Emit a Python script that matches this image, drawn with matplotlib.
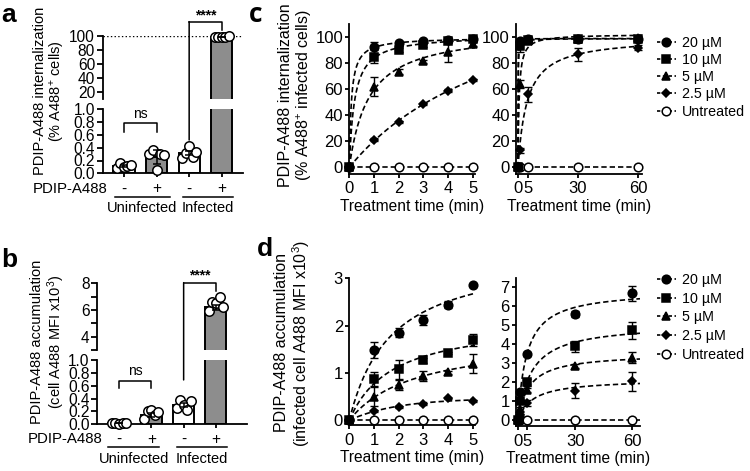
import numpy as np
import matplotlib
matplotlib.use('Agg')
import matplotlib.pyplot as plt
from matplotlib.patches import ConnectionPatch
from matplotlib.lines import Line2D
from matplotlib.transforms import blended_transform_factory as btf

plt.rcParams['font.family'] = ['Liberation Sans', 'DejaVu Sans']
plt.rcParams['mathtext.fontset'] = 'custom'
plt.rcParams['mathtext.rm'] = 'Liberation Sans'
plt.rcParams['mathtext.it'] = 'Liberation Sans:italic'
plt.rcParams['mathtext.bf'] = 'Liberation Sans:bold'

# ---------------- data ----------------
treat_labels = ['-', '+', '-', '+']
group_labels = ['Uninfected', 'Infected']

a_mean = [0.12, 0.26, 0.32, 98.4]
a_sem = [0.015, 0.11, 0.035, 0.3]
a_pts_uninf_neg = [0.08, 0.16, 0.10, 0.12, 0.13]
a_pts_uninf_pos = [0.30, 0.36, 0.05, 0.30, 0.29]
a_pts_inf_neg = [0.24, 0.31, 0.43, 0.26, 0.34]
a_pts_inf_pos = [98.0, 98.5, 98.8, 98.2, 99.0]

b_mean = [0.02, 0.15, 0.30, 6.2]
b_sem = [0.004, 0.03, 0.03, 0.17]
b_pts_uninf_neg = [0.02, 0.02, 0.01, 0.02, 0.02]
b_pts_uninf_pos = [0.08, 0.21, 0.22, 0.14, 0.19]
b_pts_inf_neg = [0.25, 0.38, 0.30, 0.22, 0.37]
b_pts_inf_pos = [5.95, 6.6, 6.5, 6.95, 6.25]

conc_labels = ['20 µM', '10 µM', '5 µM', '2.5 µM', 'Untreated']

c_t_short = [0, 1, 2, 3, 4, 5]
c_short_20 = [0, 92.2, 95.6, 96.9, 97.7, 98.5]
c_short_10 = [0, 85.0, 89.9, 94.3, 96.9, 99.0]
c_short_5 = [0, 62.0, 73.6, 81.4, 88.4, 95.1]
c_short_2p5 = [0, 21.2, 34.9, 48.6, 58.9, 67.0]
c_short_un = [0, 0, 0, 0, 0, 0]
c_short_err_20 = [0, 4.5, 1, 1, 1, 1]
c_short_err_10 = [0, 5, 1.5, 1.5, 1, 1.5]
c_short_err_5 = [0, 7.5, 2, 1, 7.7, 2]
c_short_err_2p5 = [0, 1, 1, 1, 1, 1]
c_short_err_un = [0, 0, 0, 0, 0, 0]

c_t_long = [0, 1, 5, 30, 60]
c_long_20 = [0, 97, 98.5, 99, 99]
c_long_10 = [0, 93, 97.5, 99, 98.5]
c_long_5 = [0, 64, 97, 99, 99.5]
c_long_2p5 = [0, 13, 56, 87, 92]
c_long_un = [0, 0, 0, 0, 0]
c_long_err_20 = [0, 2, 1, 1, 1]
c_long_err_10 = [0, 4, 1, 1, 1]
c_long_err_5 = [0, 3, 1, 1, 1]
c_long_err_2p5 = [0, 2, 6, 5, 2]
c_long_err_un = [0, 0, 0, 0, 0]

d_t_short = [0, 1, 2, 3, 4, 5]
d_short_20 = [0, 1.49, 1.85, 2.12, 2.44, 2.86]
d_short_10 = [0, 0.87, 1.08, 1.27, 1.42, 1.69]
d_short_5 = [0, 0.50, 0.75, 0.94, 1.01, 1.19]
d_short_2p5 = [0, 0.20, 0.28, 0.35, 0.46, 0.40]
d_short_un = [0, 0, 0, 0, 0, 0]
d_short_err_20 = [0, 0.17, 0.1, 0.1, 0.07, 0]
d_short_err_10 = [0, 0.15, 0.2, 0.05, 0.03, 0.13]
d_short_err_5 = [0, 0.2, 0.1, 0.1, 0.03, 0.2]
d_short_err_2p5 = [0, 0.02, 0.02, 0.02, 0.02, 0.02]
d_short_err_un = [0, 0, 0, 0, 0, 0]

d_t_long = [0, 1, 5, 30, 60]
d_long_20 = [0, 1.5, 3.5, 5.6, 6.7]
d_long_10 = [0, 1.0, 2.0, 3.9, 4.75]
d_long_5 = [0, 0.6, 1.6, 2.85, 3.3]
d_long_2p5 = [0, 0.3, 0.9, 1.57, 2.05]
d_long_un = [0, 0, 0, 0, 0]
d_long_err_20 = [0, 0.1, 0.1, 0.15, 0.4]
d_long_err_10 = [0, 0.1, 0.2, 0.3, 0.45]
d_long_err_5 = [0, 0.1, 0.1, 0.1, 0.3]
d_long_err_2p5 = [0, 0.05, 0.15, 0.4, 0.5]
d_long_err_un = [0, 0, 0, 0, 0]

# ---------------- figure ----------------
W, H = 750, 471
fig = plt.figure(figsize=(W / 100, H / 100), dpi=100)


def add_ax(x0, y0, x1, y1):
    return fig.add_axes([x0 / W, 1 - y1 / H, (x1 - x0) / W, (y1 - y0) / H])


def fy(y):
    return 1 - y / H


def fx(x):
    return x / W


LW = 1.3
BARFS = 11.2
TXTFS = 10.5
CFS = 12


def style(ax, bottom=True, fs=BARFS):
    for s in ['top', 'right']:
        ax.spines[s].set_visible(False)
    for s in ['left', 'bottom']:
        ax.spines[s].set_linewidth(LW)
    if not bottom:
        ax.spines['bottom'].set_visible(False)
    ax.tick_params(width=LW, length=4, labelsize=fs, pad=1.5)
    ax.set_facecolor('none')


bar_colors = ['white', '#8d8d8d', 'white', '#8d8d8d']


def bar_panel(ax_up, ax_lo, means, sems, pts, up_lim, lo_lim, xlim):
    x = np.arange(len(means))
    for ax, lim in ((ax_up, up_lim), (ax_lo, lo_lim)):
        ax.bar(x, means, width=0.65, color=bar_colors, edgecolor='black',
               linewidth=1.4, zorder=2)
        for i, p in enumerate(pts):
            p = np.asarray(p)
            offs = np.linspace(-0.22, 0.22, len(p))
            m = (p >= lim[0]) & (p <= lim[1])
            ax.plot(x[i] + offs[m], p[m], 'o', mfc='white', mec='black',
                    ms=6.8, mew=1.1, clip_on=False, zorder=4)
        ax.errorbar(x, means, yerr=sems, fmt='none', ecolor='black',
                    elinewidth=1.1, capsize=3, capthick=1.1, zorder=5)
        ax.set_ylim(*lim)
        ax.set_xlim(*xlim)
    style(ax_up, bottom=False)
    style(ax_lo)
    ax_up.set_xticks([])
    ax_lo.set_xticks(x)
    ax_lo.set_xticklabels([])
    ax_lo.tick_params(axis='x', length=3)


def bracket(ax, x0, x1, ytop, yl, yr, label, ylab, fs=10):
    ax.plot([x0, x0, x1, x1], [yl, ytop, ytop, yr], color='black', lw=1.1,
            clip_on=False, zorder=6)
    ax.text((x0 + x1) / 2, ylab, label, ha='center', va='center', fontsize=fs)


def long_bracket(ax_up, ax_lo, x0, x1, ytop, yr, ylow, ylab):
    ax_up.plot([x0, x1, x1], [ytop, ytop, yr], color='black', lw=1.1,
               clip_on=False, zorder=6)
    con = ConnectionPatch(xyA=(x0, ylow), coordsA=ax_lo.transData,
                          xyB=(x0, ytop), coordsB=ax_up.transData,
                          color='black', lw=1.1)
    fig.add_artist(con)
    ax_up.text((x0 + x1) / 2, ylab, '****', ha='center', va='center',
               fontsize=10, fontweight='bold')


def below_labels(ax, y_pm, y_line, y_grp, lines, xrow):
    tr = btf(ax.transData, fig.transFigure)
    for i, t in enumerate(treat_labels):
        ax.text(i, fy(y_pm), t, transform=tr, ha='center', va='center',
                fontsize=BARFS)
    fig.text(fx(xrow), fy(y_pm), 'PDIP-A488', ha='right', va='center',
             fontsize=TXTFS + 0.3)
    for (l0, l1), g in zip(lines, group_labels):
        ax.plot([l0, l1], [fy(y_line), fy(y_line)], transform=tr,
                color='black', lw=1.1, clip_on=False)
        ax.text((l0 + l1) / 2, fy(y_grp), g, transform=tr, ha='center',
                va='center', fontsize=TXTFS)


# ---- panel a ----
ax_a_up = add_ax(102.7, 35.7, 243, 99)
ax_a_lo = add_ax(102.7, 109.3, 243, 173.3)
bar_panel(ax_a_up, ax_a_lo, a_mean, a_sem,
          [a_pts_uninf_neg, a_pts_uninf_pos, a_pts_inf_neg, a_pts_inf_pos],
          (10, 100), (0, 1.0), (-0.65, 3.65))
ax_a_up.set_yticks([20, 40, 60, 80, 100])
ax_a_lo.set_yticks(np.arange(0, 1.01, 0.2))
ax_a_lo.set_yticklabels(['0.0', '0.2', '0.4', '0.6', '0.8', '1.0'])
ax_a_up.axhline(100, color='black', ls=':', lw=1.0, zorder=1)
bracket(ax_a_lo, 0, 1, 0.78, 0.65, 0.65, 'ns', 0.93)
long_bracket(ax_a_up, ax_a_lo, 2, 3, 120, 108, 0.52, 129)
below_labels(ax_a_lo, 189, 196.7, 208.5, [(-0.28, 1.41), (1.80, 3.34)], 108)
fig.text(fx(50), fy(91), 'PDIP-A488 internalization\n(% A488$^{+}$ cells)',
         rotation=90, ha='center', va='center', fontsize=TXTFS,
         linespacing=1.1)

# ---- panel b ----
ax_b_up = add_ax(97.3, 283.3, 246.7, 350)
ax_b_lo = add_ax(97.3, 360, 246.7, 424.3)
bar_panel(ax_b_up, ax_b_lo, b_mean, b_sem,
          [b_pts_uninf_neg, b_pts_uninf_pos, b_pts_inf_neg, b_pts_inf_pos],
          (3, 8), (0, 1.0), (-0.67, 3.95))
ax_b_up.set_yticks([3, 4, 5, 6, 7, 8])
ax_b_up.set_yticklabels(['', '4', '', '6', '', '8'])
ax_b_lo.set_yticks(np.arange(0, 1.01, 0.2))
ax_b_lo.set_yticklabels(['0.0', '0.2', '0.4', '0.6', '0.8', '1.0'])
bracket(ax_b_lo, 0, 1, 0.68, 0.56, 0.56, 'ns', 0.83)
long_bracket(ax_b_up, ax_b_lo, 2, 3, 8.05, 7.45, 0.69, 8.6)
below_labels(ax_b_lo, 439.3, 447.3, 459, [(-0.34, 1.25), (1.80, 3.35)], 102)
fig.text(fx(48.5), fy(342), 'PDIP-A488 accumulation\n(cell A488 MFI x10$^{3}$)',
         rotation=90, ha='center', va='center', fontsize=TXTFS,
         linespacing=1.1)


# ---- curve fitting from the data (one-phase association / hyperbola) ----
def fit_curve(t, y, tt, kinds=(0, 1)):
    t = np.asarray(t, float)
    y = np.asarray(y, float)
    best = (np.inf, np.zeros_like(tt))
    for k in np.logspace(-3, 2, 600):
        for kind in kinds:
            if kind == 0:
                f, ff = 1 - np.exp(-k * t), 1 - np.exp(-k * tt)
            else:
                f, ff = t / (1 / k + t), tt / (1 / k + tt)
            den = f @ f
            if den == 0:
                continue
            ymax = (f @ y) / den
            sse = np.sum((y - ymax * f) ** 2)
            if sse < best[0]:
                best = (sse, ymax * ff)
    return best[1]


markers = ['o', 's', '^', 'D', 'o']
msizes = [6.2, 5.4, 5.8, 4.3, 6.2]


def curve_panel(ax, t, series, errs, xlim, kinds):
    tt = np.linspace(0, xlim[1], 500)
    for i, (y, e) in enumerate(zip(series, errs)):
        fit = fit_curve(t, y, tt, kinds)
        ax.plot(tt, fit, color='black', lw=1.2, ls=(0, (3.2, 1.8)), zorder=2)
        e = np.asarray(e)
        ax.errorbar(t, y, yerr=np.where(e > 0, e, np.nan), fmt='none',
                    ecolor='black', elinewidth=1.0, capsize=3, capthick=1.0,
                    zorder=3, clip_on=False)
        fc = 'white' if i == 4 else 'black'
        ax.plot(t, y, ls='none', marker=markers[i], ms=msizes[i], mfc=fc,
                mec='black', mew=1.1, clip_on=False, zorder=4 if i < 4 else 3)
    ax.set_xlim(*xlim)
    style(ax, fs=CFS)
    ax.tick_params(length=3, pad=1.5, labelsize=CFS)
    ax.tick_params(axis='x', pad=2.5)
    ax.set_xlabel('Treatment time (min)', fontsize=11.2, labelpad=1.5)


def legend_at(x, y, spacing):
    handles = []
    for i, lab in enumerate(conc_labels):
        fc = 'white' if i == 4 else 'black'
        handles.append(Line2D([], [], color='black', lw=1.2,
                              ls=(0, (2.0, 1.5)), marker=markers[i],
                              ms=msizes[i], mfc=fc, mec='black', mew=1.1,
                              label=lab))
    fig.legend(handles=handles, loc='upper left',
               bbox_to_anchor=(fx(x), fy(y)), frameon=False,
               fontsize=10.3, handlelength=1.3, handletextpad=0.45,
               labelspacing=spacing, borderaxespad=0, borderpad=0)


# ---- panel c ----
ax_c1 = add_ax(349.3, 24.2, 475, 173.8)
curve_panel(ax_c1, c_t_short,
            [c_short_20, c_short_10, c_short_5, c_short_2p5, c_short_un],
            [c_short_err_20, c_short_err_10, c_short_err_5, c_short_err_2p5,
             c_short_err_un], (0, 5.1), (0, 1))
ax_c1.set_ylim(-5, 110)
ax_c1.set_yticks([0, 20, 40, 60, 80, 100])
ax_c1.set_xticks([0, 1, 2, 3, 4, 5])

ax_c2 = add_ax(516, 24.2, 641.7, 173.8)
curve_panel(ax_c2, c_t_long,
            [c_long_20, c_long_10, c_long_5, c_long_2p5, c_long_un],
            [c_long_err_20, c_long_err_10, c_long_err_5, c_long_err_2p5,
             c_long_err_un], (-1, 61.8), (1,))
ax_c2.set_ylim(-5, 110)
ax_c2.set_yticks([0, 20, 40, 60, 80, 100])
ax_c2.set_xticks([0, 5, 30, 60])
ax_c2.set_xticklabels(['0', '5', '30', '60'])

fig.text(fx(296), fy(95),
         'PDIP-A488 internalization\n(% A488$^{+}$ infected cells)',
         rotation=90, ha='center', va='center', fontsize=11.5,
         linespacing=1.1)
legend_at(657, 36, 0.22)

# ---- panel d ----
ax_d1 = add_ax(349.3, 278.3, 475, 425)
curve_panel(ax_d1, d_t_short,
            [d_short_20, d_short_10, d_short_5, d_short_2p5, d_short_un],
            [d_short_err_20, d_short_err_10, d_short_err_5, d_short_err_2p5,
             d_short_err_un], (0, 5.1), (0, 1))
ax_d1.set_ylim(-0.1, 3)
ax_d1.set_yticks([0, 1, 2, 3])
ax_d1.set_xticks([0, 1, 2, 3, 4, 5])

ax_d2 = add_ax(516, 278, 640, 426)
curve_panel(ax_d2, d_t_long,
            [d_long_20, d_long_10, d_long_5, d_long_2p5, d_long_un],
            [d_long_err_20, d_long_err_10, d_long_err_5, d_long_err_2p5,
             d_long_err_un], (-1, 64), (1,))
ax_d2.set_ylim(-0.3, 7.5)
ax_d2.set_yticks([0, 1, 2, 3, 4, 5, 6, 7])
ax_d2.set_xticks([0, 5, 30, 60])
ax_d2.set_xticklabels(['0', '5', '30', '60'])

fig.text(fx(293), fy(343),
         'PDIP-A488 accumulation\n(infected cell A488 MFI x10$^{3}$)',
         rotation=90, ha='center', va='center', fontsize=11.5,
         linespacing=1.1)
legend_at(657, 273, 0.33)

# ---- panel letters ----
for lab, x, y, fam in [('a', 1, 3, 'Liberation Sans'), ('b', 1, 248, 'Liberation Sans'),
                       ('c', 249, 1, 'Open Sans'), ('d', 257, 237, 'Liberation Sans')]:
    fig.text(fx(x), fy(y), lab, ha='left', va='top', fontsize=19,
             fontweight='bold', family=fam)

fig.savefig('out.png', dpi=100)
